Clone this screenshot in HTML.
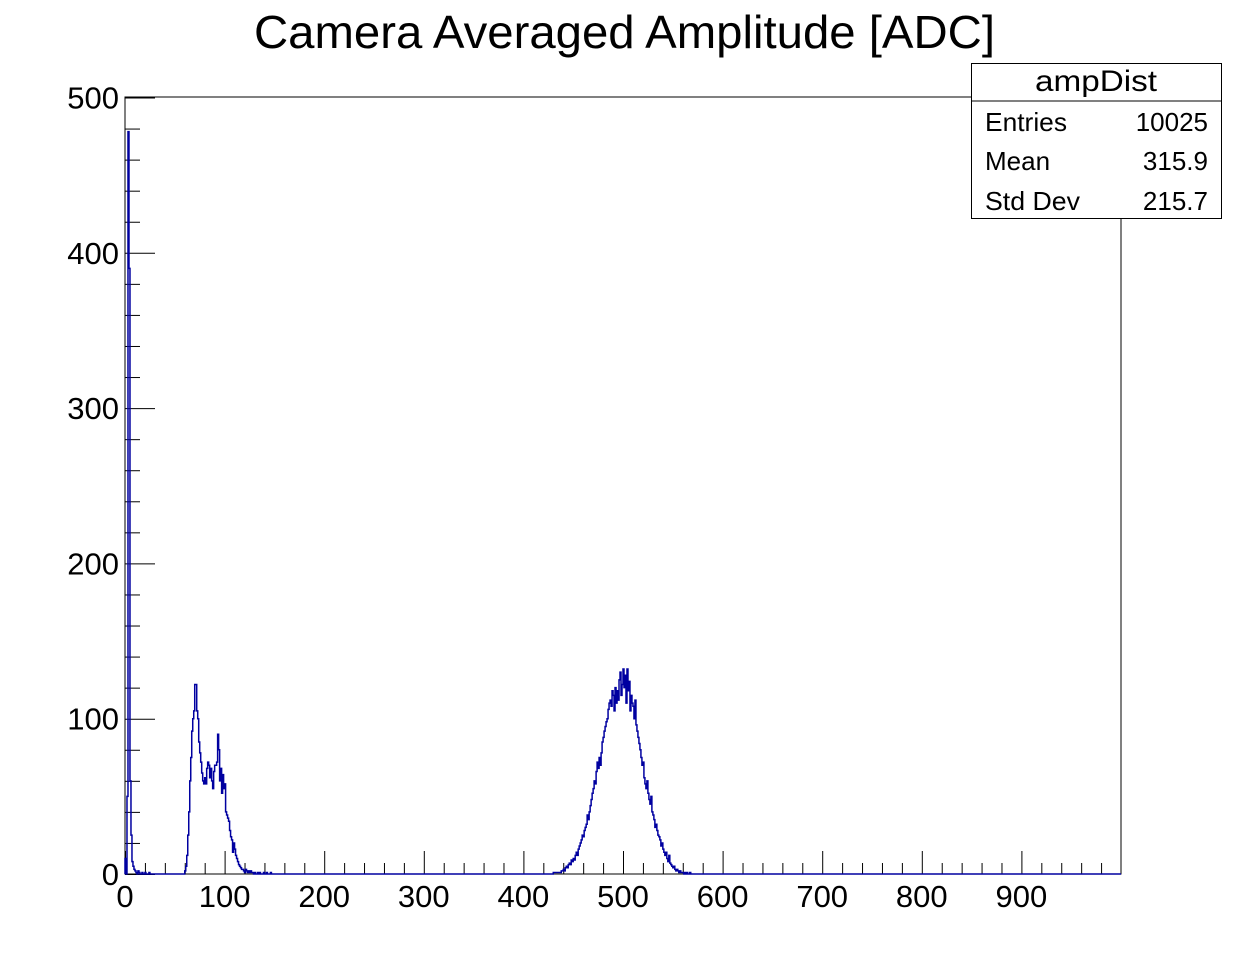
<!DOCTYPE html>
<html><head><meta charset="utf-8"><style>
body{margin:0;background:#fff;}
svg{display:block;font-family:"Liberation Sans",sans-serif;}
</style></head><body>
<svg id="c" width="1246" height="972">
<rect width="1246" height="972" fill="#fff"/>
<text x="254" y="48" font-size="46" textLength="741" lengthAdjust="spacingAndGlyphs">Camera Averaged Amplitude [ADC]</text>
<rect x="125" y="97" width="996" height="777" fill="none" stroke="#000" stroke-width="1"/>
<g id="axes"></g>
<path id="hist" fill="none" stroke="#0000a0" stroke-width="1.5"/>
<g>
<rect x="971.5" y="63.5" width="250" height="155" fill="#fff" stroke="#000"/>
<line x1="971.5" y1="101" x2="1221.5" y2="101" stroke="#000"/>
<text x="1035" y="91" font-size="30" textLength="122" lengthAdjust="spacingAndGlyphs">ampDist</text>
<text x="985" y="131" font-size="26" textLength="82" lengthAdjust="spacingAndGlyphs">Entries</text><text x="1208" y="131" font-size="26" text-anchor="end">10025</text>
<text x="985" y="170" font-size="26">Mean</text><text x="1208" y="170" font-size="26" text-anchor="end">315.9</text>
<text x="985" y="210" font-size="26" textLength="95" lengthAdjust="spacingAndGlyphs">Std Dev</text><text x="1208" y="210" font-size="26" text-anchor="end">215.7</text>
</g>
</svg>
<script>
const xTicks=[0,100,200,300,400,500,600,700,800,900];
const yTicks=[0,100,200,300,400,500];
const spikeStart=0;
const spikeVals=[10,0,50,478,390,60,25,8,5,3,2,1,0,2,1,0,0,1,0,0,1,0,0,0,1];
const peak1Start=60;
const peak1Vals=[2,5,12,25,40,60,75,92,100,105,122,122,105,100,85,78,72,65,60,58,62,58,68,72,70,62,68,60,55,66,70,70,72,90,80,60,68,52,64,55,58,40,38,36,34,28,24,22,14,20,16,12,10,8,6,5,4,3,3,2,1,3,2,1,2,1,2,1,1,0,1,0,0,1,0,1,0,0,0,1,0,0,1,0,0,0,1];
const peak2Start=430;
const peak2Vals=[1,1,1,1,1,1,1,1,2,2,3,2,4,5,4,6,7,6,9,8,10,9,12,14,12,16,18,20,22,25,24,28,30,32,38,35,40,44,48,52,55,60,58,66,72,68,75,70,78,85,88,92,95,98,100,106,110,112,108,118,115,105,120,110,118,112,125,130,115,122,132,120,128,110,132,118,124,105,115,110,108,100,112,96,92,88,84,80,75,70,72,62,58,55,60,52,48,45,50,40,38,35,30,32,28,25,24,22,18,20,16,14,12,14,10,8,12,7,6,5,4,5,3,2,3,2,1,2,1,1,1,0,1,0,1,0,0,1];
const X=v=>125+v*0.996, Y=v=>874-v*1.553;
const NS="http://www.w3.org/2000/svg";
const vals=new Array(1000).fill(0);
[[spikeStart,spikeVals],[peak1Start,peak1Vals],[peak2Start,peak2Vals]].forEach(([s,a])=>a.forEach((v,i)=>vals[s+i]=v));
let d="M"+X(0)+","+Y(0);
for(let i=0;i<1000;i++){d+=" L"+X(i)+","+Y(vals[i])+" L"+X(i+1)+","+Y(vals[i]);}
d+=" L"+X(1000)+","+Y(0);
document.getElementById('hist').setAttribute('d',d);
const g=document.getElementById('axes');
function ln(x1,y1,x2,y2,name){const l=document.createElementNS(NS,'line');l.setAttribute('x1',x1);l.setAttribute('y1',y1);l.setAttribute('x2',x2);l.setAttribute('y2',y2);l.setAttribute('stroke','#000');


g.appendChild(l);}
function tx(x,y,s,anc,name){const t=document.createElementNS(NS,'text');t.setAttribute('x',x);t.setAttribute('y',y);t.setAttribute('font-size','31');t.setAttribute('text-anchor',anc);t.textContent=s;


g.appendChild(t);}
for(let v=0;v<1000;v+=20){const x=X(v)+0.5;ln(x,874,x,874-(v%100===0?23:11),'x-tick');}
for(let v=0;v<=500;v+=20){const y=Y(v)+0.5;ln(125,y,125+(v%100===0?30:15),y,'y-tick');}
xTicks.forEach(v=>tx(X(v),907,String(v),'middle','x-tick-label'));
yTicks.forEach(v=>tx(119,Y(v)+11,String(v),'end','y-tick-label'));
</script>
</body></html>
